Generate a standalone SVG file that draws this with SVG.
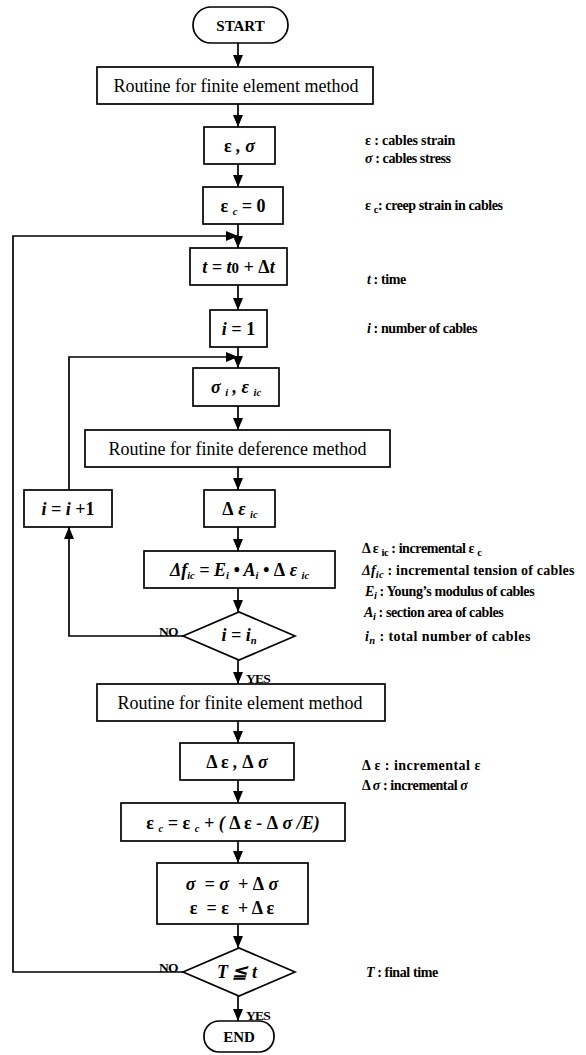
<svg xmlns="http://www.w3.org/2000/svg" width="586" height="1055" viewBox="0 0 586 1055">
<style>
.box{fill:#fff;stroke:#000;stroke-width:1.7}
.ln{fill:none;stroke:#000;stroke-width:1.7}
.t{font-family:"Liberation Serif","Times New Roman",serif;fill:#000}
.rt{font-size:18px;text-anchor:middle}
.m{font-size:18px;font-weight:bold;font-style:italic;text-anchor:middle}
.g{font-weight:bold;font-style:normal}
.u{font-style:normal}
.lbl{font-size:13.5px;font-weight:bold;letter-spacing:-0.8px}
.an{font-size:14px;font-weight:bold;letter-spacing:-0.4px}
.ai{font-style:italic}
.sub{font-size:10.5px}
</style>
<defs>
<marker id="ah" markerUnits="userSpaceOnUse" markerWidth="12" markerHeight="10" viewBox="0 0 12 10" refX="12" refY="5" orient="auto">
<path d="M0,0 L12,5 L0,10 z" fill="#000"/>
</marker>
</defs>

<g id="start">
<rect class="box" x="193" y="7" width="95" height="36" rx="18"/>
<text class="t" x="240.5" y="30.5" font-size="15" font-weight="bold" text-anchor="middle">START</text>
</g>

<g id="fem1">
<rect class="box" x="97" y="67" width="276" height="37"/>
<text class="t rt" x="236" y="92">Routine for finite element method</text>
</g>

<g id="eps-sig">
<rect class="box" x="204" y="127" width="71" height="37"/>
<text class="t m" x="239.5" y="152"><tspan class="g">ε</tspan> , σ</text>
</g>

<g id="epsc0">
<rect class="box" x="203" y="187" width="80" height="37"/>
<text class="t m" x="243" y="212"><tspan class="g">ε</tspan> <tspan class="sub" dy="3">c</tspan><tspan dy="-3"> = </tspan><tspan class="u">0</tspan></text>
</g>

<g id="time">
<rect class="box" x="190" y="248" width="97" height="37"/>
<text class="t m" x="238.5" y="273">t = t<tspan class="u" font-size="15">0</tspan> + <tspan class="u">Δ</tspan>t</text>
</g>

<g id="i1">
<rect class="box" x="210" y="310" width="57" height="37"/>
<text class="t m" x="238.5" y="335">i = <tspan class="u">1</tspan></text>
</g>

<g id="sig-i">
<rect class="box" x="193" y="368" width="86" height="38"/>
<text class="t m" x="236" y="393">σ <tspan class="sub" dy="3">i</tspan><tspan dy="-3"> , ε </tspan><tspan class="sub" dy="3">ic</tspan></text>
</g>

<g id="fdm">
<rect class="box" x="85" y="430" width="305" height="37"/>
<text class="t rt" x="237.5" y="455">Routine for finite deference method</text>
</g>

<g id="iinc">
<rect class="box" x="24" y="490" width="88" height="37"/>
<text class="t m" x="68" y="515">i = i <tspan class="u">+1</tspan></text>
</g>

<g id="deps-ic">
<rect class="box" x="204" y="490" width="71" height="37"/>
<text class="t m" x="240" y="515"><tspan class="u">Δ</tspan> ε <tspan class="sub" dy="3">ic</tspan></text>
</g>

<g id="dfic">
<rect class="box" x="144" y="551" width="191" height="37"/>
<text class="t m" x="239.5" y="576">Δf<tspan class="sub" dy="3">ic</tspan><tspan dy="-3"> = E</tspan><tspan class="sub" dy="3">i</tspan><tspan dy="-3"> • A</tspan><tspan class="sub" dy="3">i</tspan><tspan dy="-3"> •  </tspan><tspan class="u">Δ</tspan> ε <tspan class="sub" dy="3">ic</tspan></text>
</g>

<g id="dec-in">
<polygon class="box" points="183,636 239,612 295,636 239,660"/>
<text class="t m" x="239" y="641" font-size="16">i = i<tspan class="sub" dy="3">n</tspan></text>
</g>

<g id="fem2">
<rect class="box" x="97" y="684" width="288" height="37"/>
<text class="t rt" x="240" y="709">Routine for finite element method</text>
</g>

<g id="deps-dsig">
<rect class="box" x="180" y="743" width="114" height="37"/>
<text class="t m" x="237" y="768"><tspan class="g">Δ ε</tspan> , <tspan class="g">Δ</tspan> σ</text>
</g>

<g id="epsc-upd">
<rect class="box" x="121" y="803" width="224" height="38"/>
<text class="t m" x="233" y="829"><tspan class="g">ε</tspan> <tspan class="sub" dy="3">c</tspan><tspan dy="-3"> = </tspan><tspan class="g">ε</tspan> <tspan class="sub" dy="3">c</tspan><tspan dy="-3"> + ( </tspan><tspan class="g">Δ ε</tspan> - <tspan class="g">Δ</tspan> σ /E)</text>
</g>

<g id="upd">
<rect class="box" x="157" y="863" width="151" height="61"/>
<text class="t m" x="232" y="890">σ &#160;= σ &#160;+ <tspan class="g">Δ</tspan> σ</text>
<text class="t m" x="232" y="914"><tspan class="g">ε &#160;= ε &#160;+ Δ ε</tspan></text>
</g>

<g id="dec-T">
<polygon class="box" points="183,972 239,948 295,972 239,996"/>
<text class="t m" x="237" y="978" font-size="16">T ≦ t</text>
</g>

<g id="end">
<rect class="box" x="204" y="1021" width="70" height="31" rx="15"/>
<text class="t" x="239" y="1042" font-size="15" font-weight="bold" text-anchor="middle">END</text>
</g>

<g id="connectors">
<line class="ln" x1="238" y1="43" x2="238" y2="67" marker-end="url(#ah)"/>
<line class="ln" x1="238" y1="104" x2="238" y2="127" marker-end="url(#ah)"/>
<line class="ln" x1="238" y1="164" x2="238" y2="187" marker-end="url(#ah)"/>
<line class="ln" x1="238" y1="224" x2="238" y2="248" marker-end="url(#ah)"/>
<polyline class="ln" points="183,972 13,972 13,236 238,236" marker-end="url(#ah)"/>
<line class="ln" x1="238" y1="285" x2="238" y2="310" marker-end="url(#ah)"/>
<line class="ln" x1="238" y1="347" x2="238" y2="368" marker-end="url(#ah)"/>
<polyline class="ln" points="69,490 69,357 238,357" marker-end="url(#ah)"/>
<line class="ln" x1="238" y1="406" x2="238" y2="430" marker-end="url(#ah)"/>
<line class="ln" x1="238" y1="467" x2="238" y2="490" marker-end="url(#ah)"/>
<line class="ln" x1="238" y1="527" x2="238" y2="551" marker-end="url(#ah)"/>
<line class="ln" x1="238" y1="588" x2="238" y2="612" marker-end="url(#ah)"/>
<polyline class="ln" points="183,636 69,636 69,527" marker-end="url(#ah)"/>
<line class="ln" x1="238" y1="660" x2="238" y2="684" marker-end="url(#ah)"/>
<line class="ln" x1="238" y1="721" x2="238" y2="743" marker-end="url(#ah)"/>
<line class="ln" x1="238" y1="780" x2="238" y2="803" marker-end="url(#ah)"/>
<line class="ln" x1="238" y1="841" x2="238" y2="863" marker-end="url(#ah)"/>
<line class="ln" x1="238" y1="924" x2="238" y2="948" marker-end="url(#ah)"/>
<line class="ln" x1="238" y1="996" x2="238" y2="1021" marker-end="url(#ah)"/>
<text class="t lbl" x="159" y="636">NO</text>
<text class="t lbl" x="246" y="683">YES</text>
<text class="t lbl" x="159" y="972">NO</text>
<text class="t lbl" x="246" y="1020">YES</text>
</g>

<g id="annotations">
<text class="t an" x="365" y="145" textLength="90" lengthAdjust="spacing">ε : cables strain</text>
<text class="t an" x="365" y="163"><tspan class="ai">σ</tspan> : cables stress</text>
<text class="t an" x="365" y="210">ε <tspan class="sub" dy="3">c</tspan><tspan dy="-3">: creep strain in cables</tspan></text>
<text class="t an" x="367" y="284"><tspan class="ai">t</tspan> : time</text>
<text class="t an" x="367" y="333"><tspan class="ai">i</tspan> : number of cables</text>
<text class="t an" x="362" y="553">Δ ε <tspan class="sub" dy="3">ic</tspan><tspan dy="-3"> : incremental ε </tspan><tspan class="sub" dy="3">c</tspan></text>
<text class="t an" x="362" y="575" textLength="212" lengthAdjust="spacing"><tspan class="ai">Δf</tspan><tspan class="sub ai" dy="3">ic</tspan><tspan dy="-3"> : incremental tension of cables</tspan></text>
<text class="t an" x="365" y="596"><tspan class="ai">E</tspan><tspan class="sub ai" dy="3">i</tspan><tspan dy="-3"> : Young’s modulus of cables</tspan></text>
<text class="t an" x="364" y="617"><tspan class="ai">A</tspan><tspan class="sub ai" dy="3">i</tspan><tspan dy="-3"> : section area of cables</tspan></text>
<text class="t an" x="365" y="641" textLength="165" lengthAdjust="spacing"><tspan class="ai">i</tspan><tspan class="sub ai" dy="3">n</tspan><tspan dy="-3"> : total number of cables</tspan></text>
<text class="t an" x="362" y="770" textLength="118" lengthAdjust="spacing">Δ ε : incremental ε</text>
<text class="t an" x="362" y="790">Δ <tspan class="ai">σ</tspan> : incremental <tspan class="ai">σ</tspan></text>
<text class="t an" x="366" y="977"><tspan class="ai">T</tspan> : final time</text>
</g>
</svg>
